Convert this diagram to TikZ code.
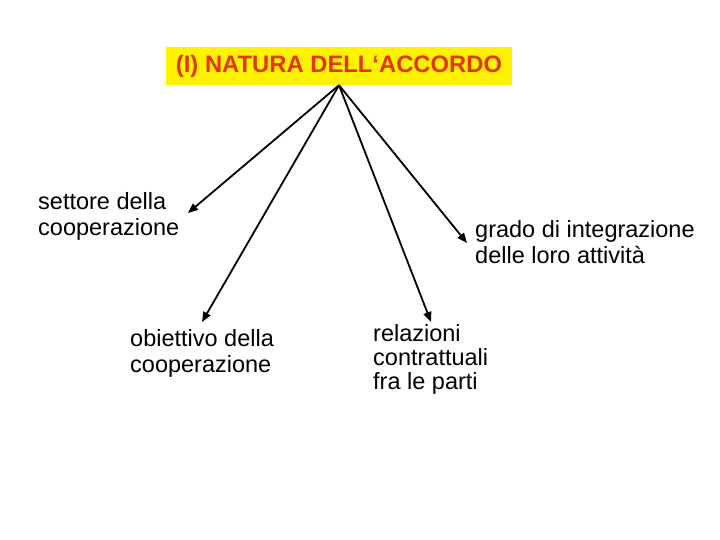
\documentclass[tikz,border=0pt]{standalone}
\usepackage{fontspec}
\setmainfont{Liberation Sans}
\usepackage{tikz}
\usetikzlibrary{arrows.meta, positioning}
\definecolor{titlered}{RGB}{228,52,10}
\tikzstyle{tnode} = [fill=yellow, text=titlered, inner sep=0pt, minimum width=346pt, minimum height=38pt, font=\bfseries\fontsize{23.8}{24}\selectfont]
\tikzstyle{lnode} = [anchor=base west, align=left, inner sep=0pt, font=\fontsize{23.5}{26}\selectfont]
\tikzstyle{line} = [draw, line width=1.8pt, -{Triangle[length=10pt, width=8pt]}]

\begin{document}
\begin{tikzpicture}[x=1pt, y=-1pt]
				\useasboundingbox [fill=white] (0,0) rectangle (720,540);
				\node [tnode] (natura) at (339,66) {(I) NATURA DELL‘ACCORDO};
				% base anchor sits on the last line
				\node [lnode] (settore) at (38,236) {settore della\\cooperazione};
				\node [lnode] (obiettivo) at (130,372) {obiettivo della\\cooperazione};
				\node [lnode, font=\fontsize{23.5}{24}\selectfont] (relazioni) at (373,389) {relazioni\\contrattuali\\fra le parti};
				\node [lnode] (grado) at (475,263) {grado di integrazione\\delle loro attività};

				\coordinate (tsettore) at (188,213);
				\coordinate (tobiettivo) at (202,322);
				\coordinate (trelazioni) at (431,322);
				\coordinate (tgrado) at (467,243);

				\path [line] (natura.south) -- (tsettore);
				\path [line] (natura.south) -- (tobiettivo);
				\path [line] (natura.south) -- (trelazioni);
				\path [line] (natura.south) -- (tgrado);
			\end{tikzpicture}
\end{document}
